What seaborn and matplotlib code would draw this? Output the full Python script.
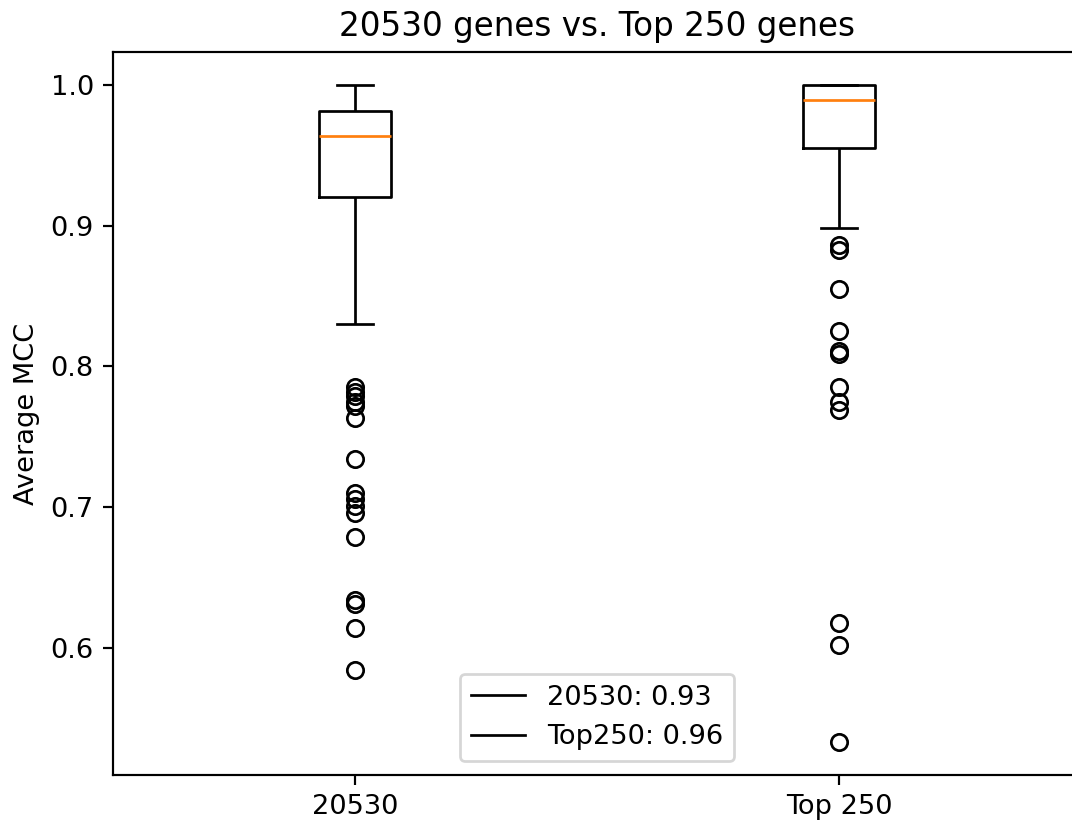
import numpy as np
import pandas as pd
import matplotlib
matplotlib.use("Agg")
import matplotlib.pyplot as plt
from matplotlib.lines import Line2D
import seaborn as sns

# Gene-set labels on the x axis and in the legend
groups = ["20530", "Top 250"]
legend_names = ["20530", "Top250"]

# Average MCC per run, using all 20530 genes
mcc_all_genes = [
    0.584, 0.614, 0.631, 0.634, 0.679, 0.696, 0.701, 0.706, 0.710, 0.734,
    0.763, 0.772, 0.775, 0.779, 0.782, 0.785, 0.830, 0.868, 0.876, 0.883,
    0.889, 0.894, 0.899, 0.903, 0.907, 0.910, 0.913, 0.916, 0.918, 0.920,
    0.920, 0.925, 0.929, 0.932, 0.935, 0.938, 0.940, 0.942, 0.944, 0.946,
    0.948, 0.949, 0.951, 0.952, 0.953, 0.954, 0.955, 0.956, 0.957, 0.958,
    0.959, 0.959, 0.960, 0.960, 0.961, 0.961, 0.962, 0.962, 0.963, 0.963,
    0.964, 0.965, 0.966, 0.967, 0.968, 0.969, 0.970, 0.971, 0.972, 0.972,
    0.973, 0.974, 0.974, 0.975, 0.975, 0.976, 0.976, 0.977, 0.977, 0.978,
    0.978, 0.979, 0.979, 0.979, 0.980, 0.980, 0.980, 0.981, 0.981, 0.981,
    0.983, 0.984, 0.985, 0.986, 0.987, 0.988, 0.989, 0.990, 0.991, 0.992,
    0.993, 0.994, 0.995, 0.996, 0.997, 0.998, 0.999, 1.000, 1.000, 1.000,
    1.000, 1.000, 1.000, 1.000, 1.000, 1.000, 1.000, 1.000, 1.000, 1.000,
]

# Average MCC per run, using the top 250 genes
mcc_top250 = [
    0.533, 0.602, 0.618, 0.769, 0.775, 0.785, 0.809, 0.811, 0.825, 0.855,
    0.883, 0.886, 0.898, 0.908, 0.915, 0.920, 0.925, 0.929, 0.933, 0.936,
    0.939, 0.942, 0.944, 0.946, 0.948, 0.950, 0.951, 0.953, 0.954, 0.955,
    0.955, 0.957, 0.959, 0.961, 0.963, 0.965, 0.967, 0.969, 0.970, 0.972,
    0.973, 0.975, 0.976, 0.977, 0.978, 0.979, 0.980, 0.981, 0.982, 0.983,
    0.984, 0.984, 0.985, 0.986, 0.986, 0.987, 0.987, 0.988, 0.988, 0.989,
    0.990, 0.991, 0.992, 0.993, 0.994, 0.995, 0.996, 0.997, 0.998, 0.999,
    1.000, 1.000, 1.000, 1.000, 1.000, 1.000, 1.000, 1.000, 1.000, 1.000,
    1.000, 1.000, 1.000, 1.000, 1.000, 1.000, 1.000, 1.000, 1.000, 1.000,
    1.000, 1.000, 1.000, 1.000, 1.000, 1.000, 1.000, 1.000, 1.000, 1.000,
    1.000, 1.000, 1.000, 1.000, 1.000, 1.000, 1.000, 1.000, 1.000, 1.000,
    1.000, 1.000, 1.000, 1.000, 1.000, 1.000, 1.000, 1.000, 1.000, 1.000,
]

df = pd.DataFrame({
    "genes": [groups[0]] * len(mcc_all_genes) + [groups[1]] * len(mcc_top250),
    "mcc": mcc_all_genes + mcc_top250,
})

DPI = 196
fig = plt.figure(figsize=(1072 / DPI, 824 / DPI), dpi=DPI)
ax = fig.add_axes([113 / 1072, 49 / 824, 968 / 1072, 723 / 824])

sns.boxplot(
    data=df, x="genes", y="mcc", order=groups, ax=ax,
    width=0.15, fill=False, color="black", linewidth=1.0, whis=1.5,
    medianprops=dict(color="#ff7f0e", linewidth=1.0),
    flierprops=dict(marker="o", markersize=6, markerfacecolor="none",
                    markeredgecolor="black", markeredgewidth=1.0),
)

ax.set_xlabel("")
ax.set_ylabel("Average MCC")
ax.set_title("20530 genes vs. Top 250 genes", fontsize=12)

means = [np.mean(mcc_all_genes), np.mean(mcc_top250)]
handles = [Line2D([], [], color="black", linewidth=1.0) for _ in means]
labels = [f"{name}: {m:.2f}" for name, m in zip(legend_names, means)]
ax.legend(handles, labels, loc="lower center")

fig.savefig("out.png", dpi=DPI)
